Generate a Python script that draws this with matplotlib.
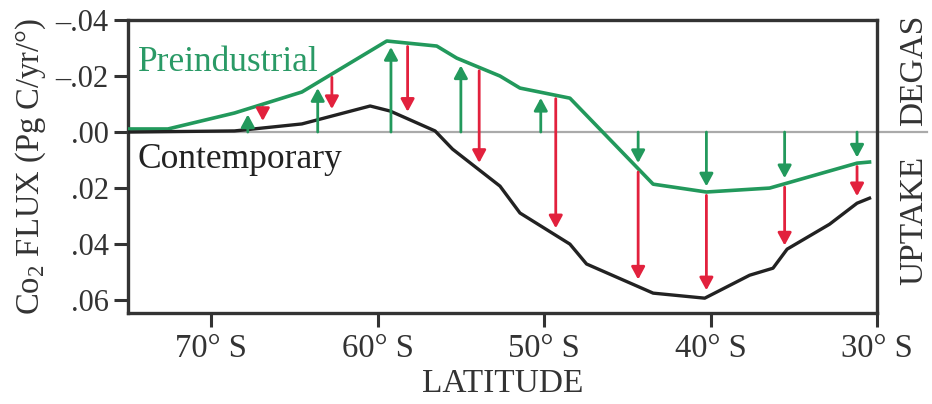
import numpy as np
import matplotlib
matplotlib.use("Agg")
import matplotlib.pyplot as plt

plt.rcParams['font.family'] = ['Liberation Serif', 'DejaVu Serif']
plt.rcParams['mathtext.fontset'] = 'custom'
plt.rcParams['mathtext.rm'] = 'Liberation Serif'

# latitude in degrees south, flux in Pg C/yr/deg (negative = degassing)
pre_lat = [75.0, 72.6, 68.6, 64.55, 59.45, 56.45, 55.25, 52.65, 51.45, 48.45,
           43.45, 40.25, 36.45, 31.2, 30.45]
pre_flux = [-0.0011, -0.0011, -0.0068, -0.0143, -0.0325, -0.0307, -0.0264, -0.0200,
            -0.0157, -0.0121, 0.0186, 0.0214, 0.0200, 0.0111, 0.0107]

con_lat = [75.0, 68.6, 64.55, 60.45, 59.25, 56.55, 55.5, 52.65, 51.45, 48.45,
           47.45, 43.45, 40.35, 37.65, 36.25, 35.4, 32.85, 31.2, 30.45]
con_flux = [0.0, -0.0004, -0.0029, -0.0093, -0.0075, -0.0004, 0.0061, 0.0193, 0.0289,
            0.0400, 0.0471, 0.0575, 0.0593, 0.0511, 0.0486, 0.0418, 0.0329, 0.0254, 0.0236]

# where the arrows are drawn
green_arrow_lat = [67.8, 63.6, 59.2, 55.0, 50.2, 44.35, 40.25, 35.55, 31.2]
red_arrow_lat = [66.9, 62.75, 58.2, 53.9, 49.3, 44.35, 40.25, 35.55, 31.2]

yticks = [-0.04, -0.02, 0.0, 0.02, 0.04, 0.06]
ytick_labels = ['\u2013.04', '\u2013.02', '.00', '.02', '.04', '.06']
xticks = [70, 60, 50, 40, 30]
xtick_labels = ['70\u00b0 S', '60\u00b0 S', '50\u00b0 S', '40\u00b0 S', '30\u00b0 S']

green = '#22995c'
red = '#e2213d'
dark = '#222222'

fig = plt.figure(figsize=(9.32, 4.04), dpi=100)
ax = fig.add_axes([0.1373, 0.2252, 0.8037, 0.7253])

# interpolation needs increasing x, so work in -latitude
px = -np.array(pre_lat)
cx = -np.array(con_lat)

ax.axhline(0, color='#aaaaaa', lw=1.6, zorder=1, xmin=0, xmax=1.067, clip_on=False)
ax.plot(px, pre_flux, color=green, lw=2.6, zorder=3)
ax.plot(cx, con_flux, color=dark, lw=2.4, zorder=3)

arrow_style = '-|>,head_length=0.5,head_width=0.27'
gap = 0.002
for lat in green_arrow_lat:
    x = -lat
    yp = np.interp(x, px, pre_flux)
    end = yp + gap if yp < 0 else yp - gap
    ax.annotate('', xy=(x, end), xytext=(x, 0),
                arrowprops=dict(arrowstyle=arrow_style, color=green, lw=2.0,
                                mutation_scale=15, shrinkA=0, shrinkB=0), zorder=4)

for lat in red_arrow_lat:
    x = -lat
    yp = np.interp(x, px, pre_flux)
    yc = np.interp(x, cx, con_flux)
    ax.annotate('', xy=(x, yc - 0.0025), xytext=(x, yp + 0.0012),
                arrowprops=dict(arrowstyle=arrow_style, color=red, lw=2.0,
                                mutation_scale=15, shrinkA=0, shrinkB=0), zorder=4)

ax.text(-74.4, -0.0218, 'Preindustrial', color='#2a9a66', fontsize=25.5,
        ha='left', va='baseline')
ax.text(-74.4, 0.0129, 'Contemporary', color=dark, fontsize=25.5,
        ha='left', va='baseline')

ax.set_xlim(-75, -30)
ax.set_ylim(0.0646, -0.04)
ax.set_xticks([-t for t in xticks])
ax.set_xticklabels(xtick_labels)
ax.set_yticks(yticks)
ax.set_yticklabels(ytick_labels)
ax.tick_params(axis='both', direction='out', length=10, width=2.2, color='#333333',
               labelsize=22, labelcolor='#333333', pad=4)
ax.tick_params(axis='x', labelsize=23.5, pad=5)
for s in ax.spines.values():
    s.set_linewidth(2.4)
    s.set_color('#333333')

ax.set_xlabel('LATITUDE', fontsize=24, color='#333333', labelpad=3)
ax.set_ylabel('Co$_2$ FLUX (Pg C/yr/\u00b0)', fontsize=23.5, color='#333333', labelpad=5)

fig.text(0.981, 0.827, 'DEGAS', rotation=90, fontsize=24, color='#333333',
         ha='center', va='center')
fig.text(0.981, 0.455, 'UPTAKE', rotation=90, fontsize=24, color='#333333',
         ha='center', va='center')

fig.savefig('out.png', dpi=100)
